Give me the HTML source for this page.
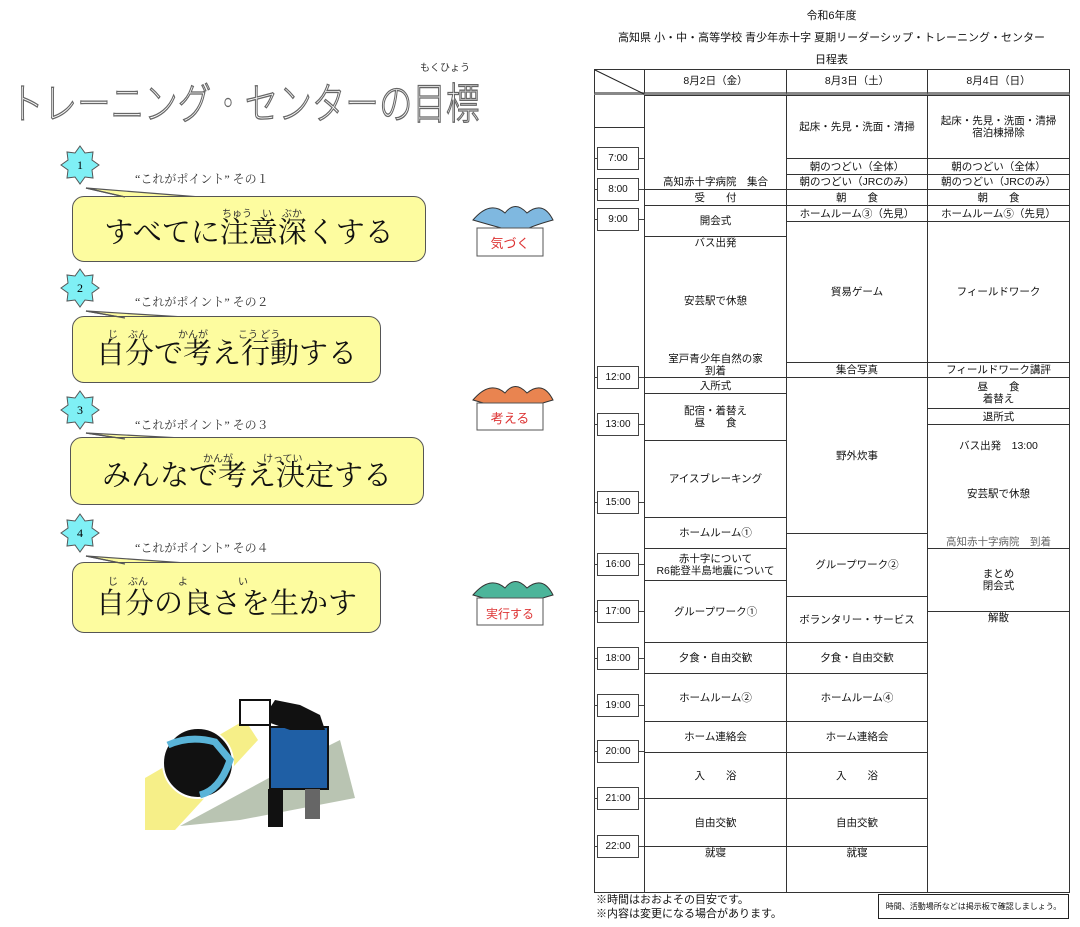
<!DOCTYPE html>
<html><head><meta charset="utf-8">
<style>
body{margin:0;width:1080px;height:927px;background:#fff;position:relative;overflow:hidden;font-family:"Liberation Sans","Noto Sans CJK JP",sans-serif;color:#111}
.a{position:absolute}
.c{position:absolute;border:1px solid #333;box-sizing:border-box;display:flex;flex-direction:column;align-items:center;justify-content:center;font-size:10.5px;line-height:12px;text-align:center;background:#fff}
.t{position:absolute;left:597px;width:42px;height:23px;border:1px solid #444;box-sizing:border-box;font-size:10px;display:flex;align-items:center;justify-content:center;background:#fff}
.tk{position:absolute;height:1px;background:#444}
.bub{position:absolute;background:#fdfc9f;border:1.5px solid #555;border-radius:12px;box-sizing:border-box;font-family:"Liberation Serif","Noto Serif CJK SC",serif;font-size:29px;display:flex;align-items:flex-end;justify-content:center;padding-bottom:10px}
.pt{position:absolute;font-size:12px;font-family:"Liberation Serif","Noto Serif CJK SC",serif;color:#333}
.rb{position:absolute;font-size:10px;color:#333;font-family:"Noto Sans CJK JP",sans-serif}
</style></head><body>

<!-- left title -->
<div class="a" style="left:10px;top:70px;font-size:43px;color:#fff;-webkit-text-stroke:1.3px #666;font-family:'Noto Sans CJK JP',sans-serif;font-weight:300;white-space:nowrap;transform:scaleX(0.78);transform-origin:0 0">トレーニング・センターの目標</div>
<div class="rb" style="left:420px;top:59px">もくひょう</div>

<!-- stars -->
<svg class="a" style="left:0;top:0" width="600" height="927">
<defs><polygon id="st" points="0,-19 5,-12 13,-13 12,-5 19,0 12,5 13,13 5,12 0,19 -5,12 -13,13 -12,5 -19,0 -12,-5 -13,-13 -5,-12" fill="#7ff0f5" stroke="#555" stroke-width="1"/></defs>
<use href="#st" x="80" y="165"/><use href="#st" x="80" y="288"/><use href="#st" x="80" y="410"/><use href="#st" x="80" y="533"/>
<g font-family="Liberation Serif,serif" font-size="12" text-anchor="middle"><text x="80" y="169">1</text><text x="80" y="292">2</text><text x="80" y="414">3</text><text x="80" y="537">4</text></g>
<!-- illustration -->
<polygon points="180,826 330,745 340,740 355,798 240,820" fill="#b9c4b2"/>
<polygon points="145,778 245,720 258,740 175,830 145,830" fill="#f6ef88"/>
<circle cx="198" cy="763" r="35" fill="#111" stroke="#fff" stroke-width="2"/>
<path d="M168,745 Q190,735 215,742 L230,760 Q220,790 200,795" fill="none" stroke="#5ab4d8" stroke-width="7"/>
<rect x="270" y="727" width="58" height="62" fill="#1f5fa5" stroke="#111" stroke-width="2"/>
<path d="M262,720 L275,700 L300,705 L320,715 L325,730 L290,730 Z" fill="#111"/>
<rect x="240" y="700" width="30" height="25" fill="#fff" stroke="#111" stroke-width="2"/>
<rect x="268" y="789" width="15" height="38" fill="#111"/><rect x="305" y="789" width="15" height="30" fill="#666"/>
</svg>

<!-- bubbles -->
<svg class="a" style="left:0;top:0" width="600" height="927">
<g fill="#fdfc9f" stroke="#555" stroke-width="1.2">
<polygon points="86,188 125,197 200,197"/><polygon points="86,311 125,318 200,318"/><polygon points="86,433 125,439 200,439"/><polygon points="86,556 125,564 200,564"/>
</g></svg>
<div class="bub" style="left:72px;top:196px;width:354px;height:66px">すべてに注意深くする</div>
<div class="bub" style="left:72px;top:316px;width:309px;height:67px">自分で考え行動する</div>
<div class="bub" style="left:70px;top:437px;width:354px;height:68px">みんなで考え決定する</div>
<div class="bub" style="left:72px;top:562px;width:309px;height:71px">自分の良さを生かす</div>
<svg class="a" style="left:0;top:0" width="600" height="927"><g stroke="#555" stroke-width="1.2"><line x1="86" y1="188" x2="125" y2="197"/><line x1="86" y1="311" x2="125" y2="318"/><line x1="86" y1="433" x2="125" y2="439"/><line x1="86" y1="556" x2="125" y2="564"/></g></svg>
<div class="rb" style="left:222px;top:205px">ちゅう　い　ぶか</div>
<div class="rb" style="left:108px;top:326px">じ　ぶん　　　かんが　　　こう どう</div>
<div class="rb" style="left:203px;top:450px">かんが　　　けってい</div>
<div class="rb" style="left:108px;top:573px">じ　ぶん　　　よ　　　　　い</div>
<div class="pt" style="left:135px;top:170px">“これがポイント” その１</div>
<div class="pt" style="left:135px;top:293px">“これがポイント” その２</div>
<div class="pt" style="left:135px;top:416px">“これがポイント” その３</div>
<div class="pt" style="left:135px;top:539px">“これがポイント” その４</div>

<!-- birds -->
<svg class="a" style="left:465px;top:195px" width="95" height="440">
<g><path d="M8,25 Q25,5 40,18 Q50,5 62,18 Q78,5 88,25 Q70,30 62,34 L40,34 Q25,30 8,25Z" fill="#7fb8e0" stroke="#333"/>
<rect x="12" y="33" width="66" height="28" fill="#fff" stroke="#555"/><text x="45" y="53" font-size="13" fill="#d33" text-anchor="middle" font-family="Noto Sans CJK JP">気づく</text></g>
<g transform="translate(0,180)"><path d="M8,25 Q25,5 40,18 Q50,5 62,18 Q78,5 88,25 Q70,30 62,34 L40,34 Q25,30 8,25Z" fill="#e98450" stroke="#333"/>
<rect x="12" y="28" width="66" height="27" fill="#fff" stroke="#555"/><text x="45" y="48" font-size="13" fill="#d33" text-anchor="middle" font-family="Noto Sans CJK JP">考える</text></g>
<g transform="translate(0,375)"><path d="M8,25 Q25,5 40,18 Q50,5 62,18 Q78,5 88,25 Q70,30 62,34 L40,34 Q25,30 8,25Z" fill="#4cb59a" stroke="#333"/>
<rect x="12" y="28" width="66" height="27" fill="#fff" stroke="#555"/><text x="45" y="48" font-size="12" fill="#d33" text-anchor="middle" font-family="Noto Sans CJK JP">実行する</text></g>
</svg>

<!-- table titles -->
<div class="a" style="left:594px;width:475px;top:7px;text-align:center;font-size:11px">令和6年度</div>
<div class="a" style="left:594px;width:475px;top:29px;text-align:center;font-size:11px">高知県 小・中・高等学校 青少年赤十字 夏期リーダーシップ・トレーニング・センター</div>
<div class="a" style="left:594px;width:475px;top:51px;text-align:center;font-size:11px">日程表</div>

<!-- table -->
<div class="a" style="left:594px;top:69px;width:476px;height:824px;border:1px solid #333;box-sizing:border-box"></div>
<div class="c" style="left:594px;top:69px;width:51px;height:26px;border-bottom:3px solid #888"></div>
<svg class="a" style="left:594px;top:69px" width="51" height="26"><line x1="1" y1="1" x2="50" y2="25" stroke="#222"/></svg>
<div class="c" style="left:644px;top:69px;width:143px;height:26px;border-bottom:3px solid #888">8月2日（金）</div>
<div class="c" style="left:786px;top:69px;width:142px;height:26px;border-bottom:3px solid #888">8月3日（土）</div>
<div class="c" style="left:927px;top:69px;width:143px;height:26px;border-bottom:3px solid #888">8月4日（日）</div>
<div class="a" style="left:594px;top:127px;width:51px;height:1px;background:#333"></div>
<div class="a" style="left:644px;top:95px;width:1px;height:798px;background:#333"></div>

<!-- col1 -->
<div class="c" style="left:644px;top:95px;width:143px;height:95px;justify-content:flex-end;padding-bottom:1px">高知赤十字病院　集合</div>
<div class="c" style="left:644px;top:189px;width:143px;height:17px">受　　付</div>
<div class="c" style="left:644px;top:205px;width:143px;height:32px">開会式</div>
<div class="c" style="left:644px;top:236px;width:143px;height:142px;justify-content:space-between"><span>バス出発</span><span>安芸駅で休憩</span><span>室戸青少年自然の家<br>到着</span></div>
<div class="c" style="left:644px;top:377px;width:143px;height:17px">入所式</div>
<div class="c" style="left:644px;top:393px;width:143px;height:48px">配宿・着替え<br>昼　　食</div>
<div class="c" style="left:644px;top:440px;width:143px;height:78px">アイスブレーキング</div>
<div class="c" style="left:644px;top:517px;width:143px;height:32px">ホームルーム①</div>
<div class="c" style="left:644px;top:548px;width:143px;height:33px">赤十字について<br>R6能登半島地震について</div>
<div class="c" style="left:644px;top:580px;width:143px;height:63px">グループワーク①</div>
<div class="c" style="left:644px;top:642px;width:143px;height:32px">夕食・自由交歓</div>
<div class="c" style="left:644px;top:673px;width:143px;height:49px">ホームルーム②</div>
<div class="c" style="left:644px;top:721px;width:143px;height:32px">ホーム連絡会</div>
<div class="c" style="left:644px;top:752px;width:143px;height:47px">入　　浴</div>
<div class="c" style="left:644px;top:798px;width:143px;height:49px">自由交歓</div>
<div class="c" style="left:644px;top:846px;width:143px;height:47px;justify-content:flex-start">就寝</div>
<!-- col2 -->
<div class="c" style="left:786px;top:95px;width:142px;height:64px">起床・先見・洗面・清掃</div>
<div class="c" style="left:786px;top:158px;width:142px;height:17px">朝のつどい（全体）</div>
<div class="c" style="left:786px;top:174px;width:142px;height:16px">朝のつどい（JRCのみ）</div>
<div class="c" style="left:786px;top:189px;width:142px;height:17px">朝　　食</div>
<div class="c" style="left:786px;top:205px;width:142px;height:17px">ホームルーム③（先見）</div>
<div class="c" style="left:786px;top:221px;width:142px;height:142px">貿易ゲーム</div>
<div class="c" style="left:786px;top:362px;width:142px;height:16px">集合写真</div>
<div class="c" style="left:786px;top:377px;width:142px;height:157px">野外炊事</div>
<div class="c" style="left:786px;top:533px;width:142px;height:64px">グループワーク②</div>
<div class="c" style="left:786px;top:596px;width:142px;height:47px">ボランタリー・サービス</div>
<div class="c" style="left:786px;top:642px;width:142px;height:32px">夕食・自由交歓</div>
<div class="c" style="left:786px;top:673px;width:142px;height:49px">ホームルーム④</div>
<div class="c" style="left:786px;top:721px;width:142px;height:32px">ホーム連絡会</div>
<div class="c" style="left:786px;top:752px;width:142px;height:47px">入　　浴</div>
<div class="c" style="left:786px;top:798px;width:142px;height:49px">自由交歓</div>
<div class="c" style="left:786px;top:846px;width:142px;height:47px;justify-content:flex-start">就寝</div>
<!-- col3 -->
<div class="c" style="left:927px;top:95px;width:143px;height:64px">起床・先見・洗面・清掃<br>宿泊棟掃除</div>
<div class="c" style="left:927px;top:158px;width:143px;height:17px">朝のつどい（全体）</div>
<div class="c" style="left:927px;top:174px;width:143px;height:16px">朝のつどい（JRCのみ）</div>
<div class="c" style="left:927px;top:189px;width:143px;height:17px">朝　　食</div>
<div class="c" style="left:927px;top:205px;width:143px;height:17px">ホームルーム⑤（先見）</div>
<div class="c" style="left:927px;top:221px;width:143px;height:142px">フィールドワーク</div>
<div class="c" style="left:927px;top:362px;width:143px;height:16px">フィールドワーク講評</div>
<div class="c" style="left:927px;top:377px;width:143px;height:32px">昼　　食<br>着替え</div>
<div class="c" style="left:927px;top:408px;width:143px;height:17px">退所式</div>
<div class="c" style="left:927px;top:424px;width:143px;height:125px;justify-content:space-between;padding:15px 0 0"><span>バス出発　13:00</span><span>安芸駅で休憩</span><span style="color:#666">高知赤十字病院　到着</span></div>
<div class="c" style="left:927px;top:548px;width:143px;height:64px">まとめ<br>閉会式</div>
<div class="c" style="left:927px;top:611px;width:143px;height:282px;justify-content:flex-start">解散</div>

<!-- times -->
<div class="tk" style="left:594px;top:158px;width:50px"></div><div class="t" style="top:147px">7:00</div>
<div class="tk" style="left:594px;top:189px;width:50px"></div><div class="t" style="top:178px">8:00</div>
<div class="tk" style="left:594px;top:219px;width:50px"></div><div class="t" style="top:208px">9:00</div>
<div class="tk" style="left:594px;top:377px;width:50px"></div><div class="t" style="top:366px">12:00</div>
<div class="tk" style="left:594px;top:424px;width:50px"></div><div class="t" style="top:413px">13:00</div>
<div class="tk" style="left:594px;top:502px;width:50px"></div><div class="t" style="top:491px">15:00</div>
<div class="tk" style="left:594px;top:564px;width:50px"></div><div class="t" style="top:553px">16:00</div>
<div class="tk" style="left:594px;top:611px;width:50px"></div><div class="t" style="top:600px">17:00</div>
<div class="tk" style="left:594px;top:658px;width:50px"></div><div class="t" style="top:647px">18:00</div>
<div class="tk" style="left:594px;top:705px;width:50px"></div><div class="t" style="top:694px">19:00</div>
<div class="tk" style="left:594px;top:751px;width:50px"></div><div class="t" style="top:740px">20:00</div>
<div class="tk" style="left:594px;top:798px;width:50px"></div><div class="t" style="top:787px">21:00</div>
<div class="tk" style="left:594px;top:846px;width:50px"></div><div class="t" style="top:835px">22:00</div>

<!-- footer -->
<div class="a" style="left:596px;top:893px;font-size:11px;line-height:14px">※時間はおおよその目安です。<br>※内容は変更になる場合があります。</div>
<div class="a" style="left:878px;top:894px;width:191px;height:25px;border:1.5px solid #222;box-sizing:border-box;font-size:8px;display:flex;align-items:center;justify-content:center">時間、活動場所などは掲示板で確認しましょう。</div>
</body></html>
